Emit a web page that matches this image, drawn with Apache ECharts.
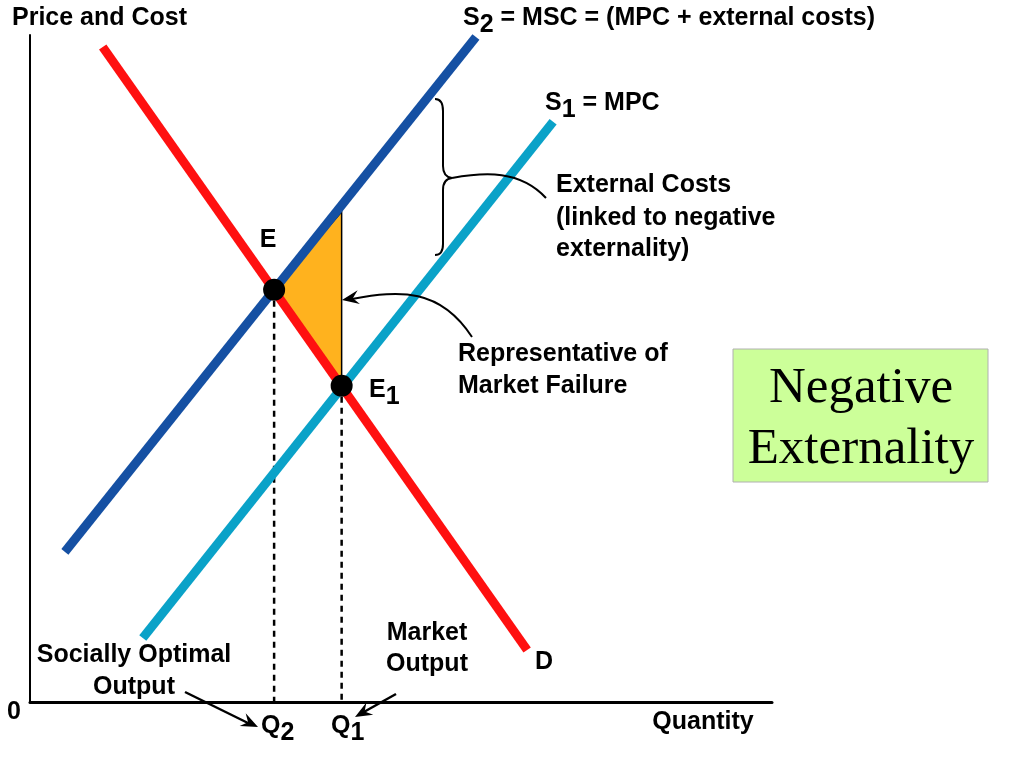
<!DOCTYPE html>
<html><head><meta charset="utf-8">
<script src="https://cdn.jsdelivr.net/npm/echarts@6/dist/echarts.min.js"></script>
<style>html,body{margin:0;padding:0;background:#fff}#c{width:1024px;height:768px}</style>
</head><body><div id="c"></div>
<script>
// Data (quantity, price in arbitrary units 0..100)
const demandQ = [9.8, 67.0];
const demandP = [98.2, 7.8];
const mscQ = [4.7, 60.1];
const mscP = [22.5, 99.7];
const mpcQ = [15.2, 70.5];
const mpcP = [9.6, 87.0];
const eqNames = ['E', 'E1'];
const eqQ = [32.9, 42.0];
const eqP = [61.8, 47.4];
const failureQ = [32.9, 42.0, 42.0];
const failureP = [61.8, 73.5, 47.4];

const RED = '#ff1010', DBLUE = '#1550a3', LBLUE = '#0aa2c8';
const F = '"Liberation Sans", Arial, sans-serif';
const FS = 25;
const chart = echarts.init(document.getElementById('c'));

function pairs(a, b) { return a.map((v, i) => [v, b[i]]); }

function txt(x, y, text, align) {
  return {
    type: 'text', x: x, y: y, z: 50,
    style: {
      text: text, font: 'bold ' + FS + 'px ' + F, fill: '#000',
      align: align || 'left', verticalAlign: 'middle',
      rich: { s: { fontSize: FS, fontWeight: 'bold', fontFamily: F, padding: [14, 0, 0, 0], fill: '#000' },
              n: { fontSize: FS, fontWeight: 'bold', fontFamily: F, fill: '#000' } }
    }
  };
}
function head(tx, ty, fx, fy) {
  const a = Math.atan2(ty - fy, tx - fx), L = 17, W = 7;
  const bx = tx - L * Math.cos(a), by = ty - L * Math.sin(a);
  const mx = tx - 11 * Math.cos(a), my = ty - 11 * Math.sin(a);
  return { type: 'polygon', z: 50, shape: { points: [[tx, ty],
    [bx + W * Math.sin(a), by - W * Math.cos(a)], [mx, my],
    [bx - W * Math.sin(a), by + W * Math.cos(a)]] }, style: { fill: '#000' } };
}
function seg(x1, y1, x2, y2, w) {
  return { type: 'line', z: 40, shape: { x1, y1, x2, y2 }, style: { stroke: '#000', lineWidth: w || 2 } };
}
function bez(x1, y1, cpx1, cpy1, x2, y2, cpx2, cpy2, w) {
  const s = { x1, y1, x2, y2, cpx1, cpy1 };
  if (cpx2 !== undefined) { s.cpx2 = cpx2; s.cpy2 = cpy2; }
  return { type: 'bezierCurve', z: 40, shape: s, style: { fill: null, stroke: '#000', lineWidth: w || 2 } };
}

const option = {
  animation: false,
  grid: { left: 30, right: 252, top: 35, bottom: 66 },
  xAxis: { type: 'value', min: 0, max: 100, splitLine: { show: false },
    axisTick: { show: false }, axisLabel: { show: false },
    axisLine: { onZero: false, lineStyle: { color: '#000', width: 3 } } },
  yAxis: { type: 'value', min: 0, max: 100, splitLine: { show: false },
    axisTick: { show: false }, axisLabel: { show: false },
    axisLine: { show: true, onZero: false, lineStyle: { color: '#000', width: 2 } } },
  series: [
    { type: 'custom', z: 1, renderItem: function (params, api) {
        const pts = failureQ.map((q, i) => api.coord([q, failureP[i]]));
        return { type: 'polygon', shape: { points: pts },
          style: { fill: '#ffb21e', stroke: '#000', lineWidth: 1.5 } };
      }, data: [[0, 0]], silent: true },
    { type: 'line', z: 2, data: [[eqQ[0], eqP[0]], [eqQ[0], 0]], symbol: 'none',
      lineStyle: { color: '#000', width: 2.5, type: [6, 5] } },
    { type: 'line', z: 2, data: [[eqQ[1], eqP[1]], [eqQ[1], 0]], symbol: 'none',
      lineStyle: { color: '#000', width: 2.5, type: [6, 5] } },
    { type: 'line', z: 3, data: pairs(mpcQ, mpcP), symbol: 'none', lineStyle: { color: LBLUE, width: 9, cap: 'butt' } },
    { type: 'line', z: 4, data: pairs(mscQ, mscP), symbol: 'none', lineStyle: { color: DBLUE, width: 9, cap: 'butt' } },
    { type: 'line', z: 5, data: pairs(demandQ, demandP), symbol: 'none', lineStyle: { color: RED, width: 9, cap: 'butt' } },
    { type: 'scatter', z: 6, data: pairs(eqQ, eqP), symbolSize: 22, itemStyle: { color: '#000', opacity: 1 } }
  ],
  graphic: [
    txt(12, 18, 'Price and Cost'),
    txt(463, 18, '{n|S}{s|2}{n| = MSC = (MPC + external costs)}'),
    txt(545, 103, '{n|S}{s|1}{n| = MPC}'),
    txt(556, 185, 'External Costs'),
    txt(556, 218, '(linked to negative'),
    txt(556, 249, 'externality)'),
    txt(458, 354, 'Representative of'),
    txt(458, 386, 'Market Failure'),
    txt(268, 240, 'E', 'center'),
    txt(369, 390, '{n|E}{s|1}'),
    txt(134, 655, 'Socially Optimal', 'center'),
    txt(134, 687, 'Output', 'center'),
    txt(427, 633, 'Market', 'center'),
    txt(427, 664, 'Output', 'center'),
    txt(544, 662, 'D', 'center'),
    txt(703, 722, 'Quantity', 'center'),
    txt(14, 712, '0', 'center'),
    txt(261, 726, '{n|Q}{s|2}'),
    txt(331, 726, '{n|Q}{s|1}'),
    // brace
    bez(435, 99, 443, 99, 443, 111),
    seg(443, 111, 443, 166),
    bez(443, 166, 443, 177, 452, 178),
    bez(452, 178, 443, 179, 443, 190),
    seg(443, 190, 443, 244),
    bez(443, 244, 443, 255, 435, 255),
    bez(452, 178, 485, 172, 546, 198, 520, 170),
    // market failure arrow
    bez(472, 337, 440, 288, 352, 299, 400, 290),
    head(342, 300, 360, 297),
    // bottom arrows
    seg(185, 692, 250, 724, 2.5),
    head(258, 727, 185, 692),
    seg(396, 694, 362, 713, 2.5),
    head(355, 717, 396, 694),
    { type: 'rect', z: 30, shape: { x: 733, y: 349, width: 255, height: 133 },
      style: { fill: '#ccff99', stroke: '#b0b0b0', lineWidth: 1 } },
    { type: 'text', z: 31, x: 861, y: 389, style: { text: 'Negative', font: '51px "Liberation Serif", "Times New Roman", serif', fill: '#000', align: 'center', verticalAlign: 'middle' } },
    { type: 'text', z: 31, x: 861, y: 450, style: { text: 'Externality', font: '51px "Liberation Serif", "Times New Roman", serif', fill: '#000', align: 'center', verticalAlign: 'middle' } }
  ]
};
chart.setOption(option);
</script></body></html>
